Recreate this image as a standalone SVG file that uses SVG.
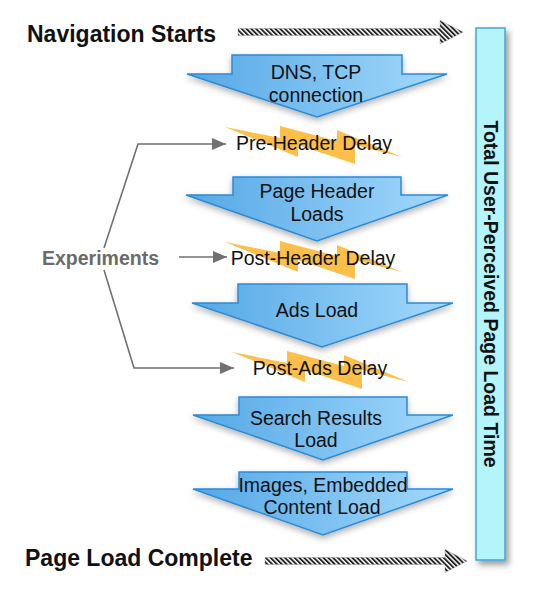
<svg xmlns="http://www.w3.org/2000/svg" width="537" height="599" viewBox="0 0 537 599">
<defs>
<style>
.lbl{font-family:"Liberation Sans",Arial,sans-serif;font-size:19.5px;fill:#111;text-anchor:middle}
.big{font-family:"Liberation Sans",Arial,sans-serif;font-size:23px;font-weight:bold;fill:#111}
.exp{font-family:"Liberation Sans",Arial,sans-serif;font-size:19.5px;font-weight:bold;fill:#6b6b6b}
.barT{font-family:"Liberation Sans",Arial,sans-serif;font-size:19.5px;font-weight:bold;fill:#111;text-anchor:middle}
.arr{fill:url(#blue);stroke:#2b8bd7;stroke-width:1.5;stroke-linejoin:miter;filter:url(#sh)}
.bolt{fill:#fbbf4a}
.con{fill:none;stroke:#707070;stroke-width:1.6;marker-end:url(#ah)}
.hatch{fill:url(#stripes);stroke:#888;stroke-width:0.4}
</style>
<linearGradient id="blue" x1="0" y1="0" x2="1" y2="0">
<stop offset="0" stop-color="#55a8e6"/>
<stop offset="1" stop-color="#a3d9fb"/>
</linearGradient>
<filter id="sh" x="-10%" y="-10%" width="120%" height="140%">
<feDropShadow dx="0" dy="3" stdDeviation="3" flood-color="#000" flood-opacity="0.3"/>
</filter>
<filter id="sh2" x="-30%" y="-5%" width="160%" height="110%">
<feDropShadow dx="3" dy="4" stdDeviation="3" flood-color="#000" flood-opacity="0.4"/>
</filter>
<pattern id="stripes" width="3.4" height="3.4" patternUnits="userSpaceOnUse" patternTransform="rotate(-45)">
<rect width="3.4" height="3.4" fill="#fff"/>
<rect width="1.9" height="3.4" fill="#222"/>
</pattern>
<marker id="ah" markerWidth="14" markerHeight="12" refX="14" refY="6" orient="auto" markerUnits="userSpaceOnUse">
<path d="M0,0 L14,6 L0,12 z" fill="#707070"/>
</marker>
<polygon id="boltShape" points="0,0 55,11 55,-1 112,14 112,3 177,30 130,18 130,37 73,18 73,30"/>
</defs>

<g id="connectors">
<polyline class="con" points="104,248 138,144 226,144"/>
<polyline class="con" points="179,257 227,257"/>
<polyline class="con" points="104,270 134,368 234,368"/>
<polygon class="hatch" points="238,28.5 440,28.5 440,20.5 463,32 440,44 440,35.5 238,35.5"/>
<polygon class="hatch" points="265,557.5 445,557.5 445,549.5 467,561 445,572.5 445,564.5 265,564.5"/>
</g>

<g id="nav-starts"><text class="big" x="27" y="42">Navigation Starts</text></g>
<g id="page-load-complete"><text class="big" x="25" y="566">Page Load Complete</text></g>
<g id="experiments"><text class="exp" x="42" y="265">Experiments</text></g>

<g id="total-bar">
<rect x="476" y="28" width="29" height="532" fill="#b4f4fb" stroke="#44a5d6" stroke-width="1.5" filter="url(#sh2)"/>
<text class="barT" transform="translate(491,294) rotate(90)" y="7">Total User-Perceived Page Load Time</text>
</g>

<g id="dns">
<polygon class="arr" points="232,55 402,55 402,74 447,74 317,117 187,74 232,74"/>
<text class="lbl" x="316" y="79">DNS, TCP</text>
<text class="lbl" x="316" y="102">connection</text>
</g>

<g id="pre-header">
<use href="#boltShape" class="bolt" transform="translate(225,127)"/>
<text class="lbl" x="314" y="150">Pre-Header Delay</text>
</g>

<g id="page-header">
<polygon class="arr" points="233,177 401,177 401,195 448,195 317,241 186,195 233,195"/>
<text class="lbl" x="317" y="198">Page Header</text>
<text class="lbl" x="317" y="221">Loads</text>
</g>

<g id="post-header">
<use href="#boltShape" class="bolt" transform="translate(225,242)"/>
<text class="lbl" x="313" y="265">Post-Header Delay</text>
</g>

<g id="ads">
<polygon class="arr" points="238,284 407,284 407,303 453,303 322,347 192,303 238,303"/>
<text class="lbl" x="317" y="317">Ads Load</text>
</g>

<g id="post-ads">
<use href="#boltShape" class="bolt" transform="translate(232,352)"/>
<text class="lbl" x="320" y="375">Post-Ads Delay</text>
</g>

<g id="search">
<polygon class="arr" points="239,397 407,397 407,415 453,415 323,460 193,415 239,415"/>
<text class="lbl" x="316" y="425">Search Results</text>
<text class="lbl" x="316" y="447">Load</text>
</g>

<g id="images">
<polygon class="arr" points="239,472 407,472 407,489 453,489 323,535 193,489 239,489"/>
<text class="lbl" x="323" y="492">Images, Embedded</text>
<text class="lbl" x="322" y="514">Content Load</text>
</g>
</svg>
